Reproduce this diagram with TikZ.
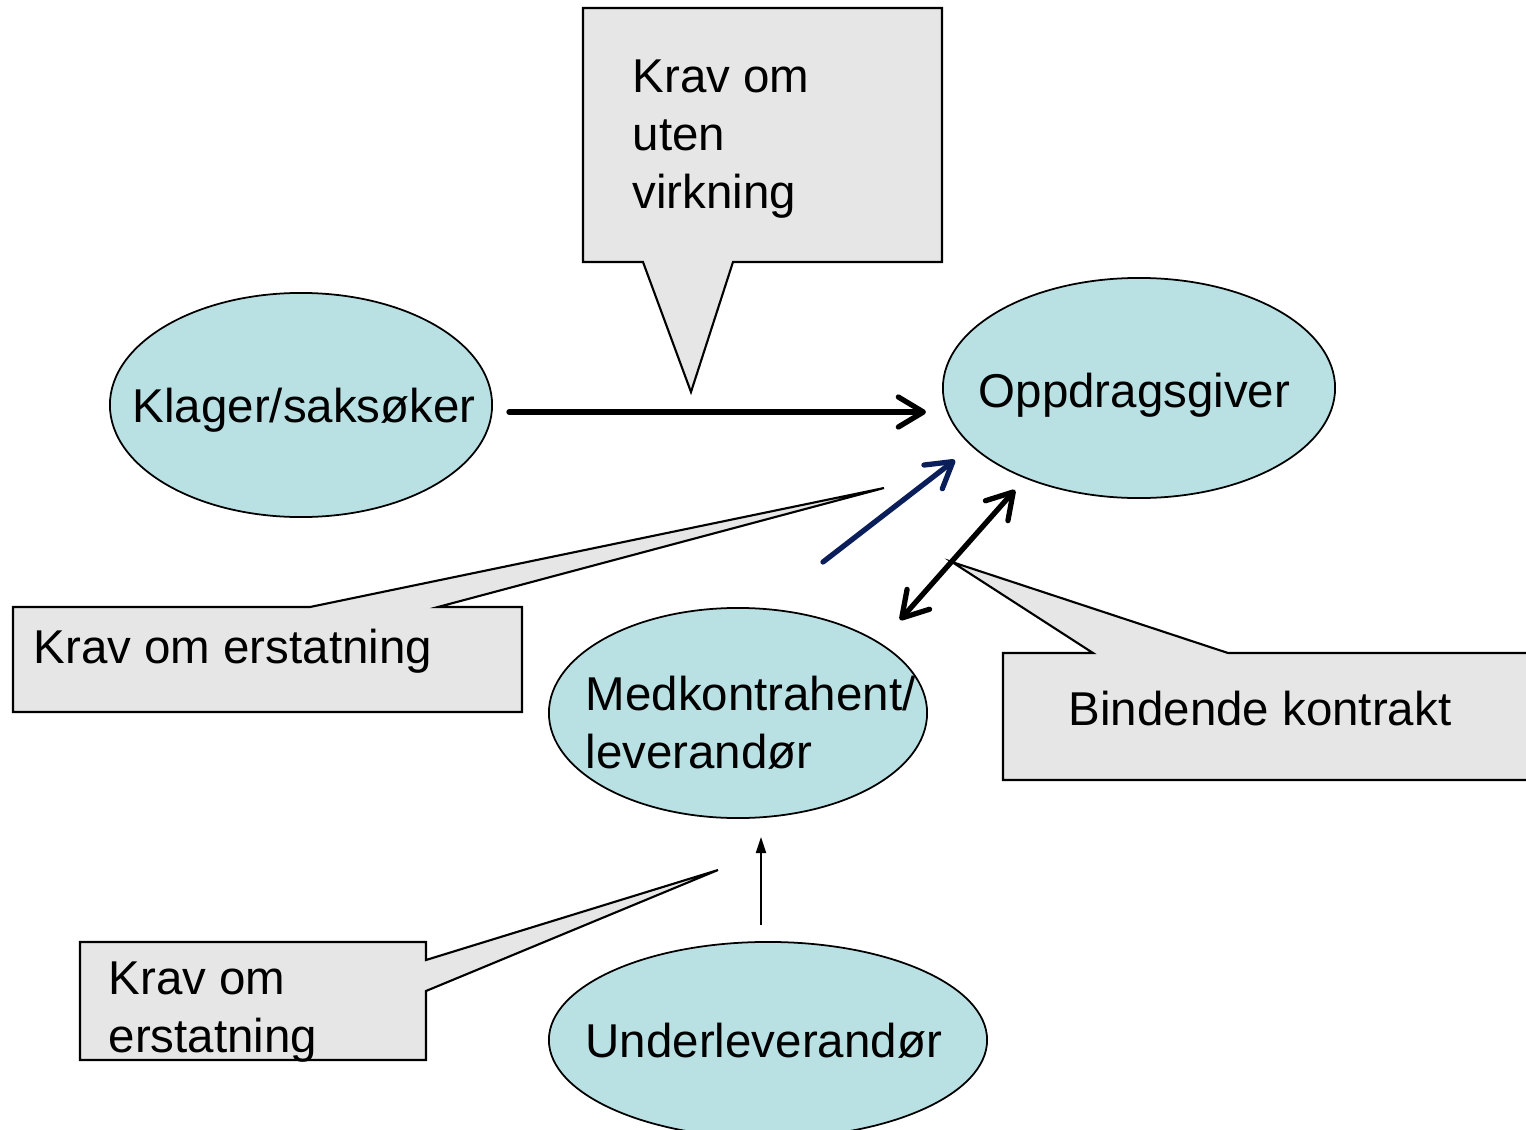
\documentclass[tikz,border=0pt]{standalone}
\usepackage{fontspec}
\setmainfont{Liberation Sans}
\usetikzlibrary{shapes.geometric,arrows.meta}

\definecolor{partyfill}{HTML}{B9E0E3}
\definecolor{calloutfill}{HTML}{E6E6E6}
\definecolor{navyarrow}{HTML}{0A1E5A}

\tikzset{
  party/.style={ellipse, draw, line width=0.5pt, fill=partyfill, inner sep=0pt},
  callout/.style={draw, line width=0.6pt, fill=calloutfill, line join=miter},
  calltext/.style={inner sep=0pt, align=left, font=\fontsize{13.5}{16.4}\selectfont},
  bigarrow/.style={line width=1.5pt, line cap=round,
    -{Straight Barb[round,length=2.5mm,width=3mm]}},
  twoway/.style={line width=1.5pt, line cap=round,
    {Straight Barb[round,length=2.5mm,width=3mm]}-{Straight Barb[round,length=2.5mm,width=3mm]}},
  thinarrow/.style={line width=0.6pt, -{Triangle[length=1.6mm,width=1mm]}}
}

\begin{document}
\begin{tikzpicture}[x=0.01cm,y=-0.01cm]
  \clip (0,0) rectangle (1526,1130);

  \filldraw[callout] (583,8) -- (942,8) -- (942,262) -- (733,262) -- (691,392)
    -- (643,262) -- (583,262) -- cycle;
  \filldraw[callout] (13,607) -- (310,607) -- (884,488) -- (438,607) -- (522,607)
    -- (522,712) -- (13,712) -- cycle;
  \filldraw[callout] (1003,653) -- (1093,653) -- (952,562) -- (1228,653) -- (1535,653)
    -- (1535,780) -- (1003,780) -- cycle;
  \filldraw[callout] (80,942) -- (426,942) -- (426,960) -- (718,870) -- (426,991)
    -- (426,1060) -- (80,1060) -- cycle;

  \node[calltext, anchor=base west] (virkning) at (632,208) {Krav om\\uten\\virkning};
  \node[calltext, anchor=base west] (erstatA) at (33,663) {Krav om erstatning};
  \node[calltext, anchor=base west] (kontrakt) at (1068,725) {Bindende kontrakt};
  \node[calltext, anchor=base west] (erstatB) at (108,1052) {Krav om\\erstatning};

  \node[party, minimum width=3.82cm, minimum height=2.24cm] (klager) at (301,405) {};
  \node[party, minimum width=3.92cm, minimum height=2.2cm] (oppdrag) at (1139,388) {};
  \node[party, minimum width=3.78cm, minimum height=2.1cm] (medkontr) at (738,713) {};
  \node[party, minimum width=4.38cm, minimum height=1.96cm] (underlev) at (768,1040) {};

  \node[calltext, anchor=base west] (klagertxt) at (132,422) {Klager/saksøker};
  \node[calltext, anchor=base west] (oppdragtxt) at (978,407) {Oppdragsgiver};
  \node[calltext, anchor=base west] (medkontrtxt) at (585,768) {Medkontrahent/\\leverandør};
  \node[calltext, anchor=base west] (underlevtxt) at (585,1057) {Underleverandør};

  \coordinate (klagerout) at (509,412);
  \coordinate (oppdragin) at (926,412);
  \coordinate (erstatfrom) at (823,562);
  \coordinate (erstatto) at (955,460);
  \coordinate (bindlow) at (900,620);
  \coordinate (bindhigh) at (1015,490);
  \coordinate (underout) at (761,925);
  \coordinate (medin) at (761,837);

  \draw[bigarrow] (klagerout) -- (oppdragin);
  \draw[bigarrow, navyarrow] (erstatfrom) -- (erstatto);
  \draw[twoway] (bindlow) -- (bindhigh);
  \draw[thinarrow] (underout) -- (medin);
\end{tikzpicture}
\end{document}
